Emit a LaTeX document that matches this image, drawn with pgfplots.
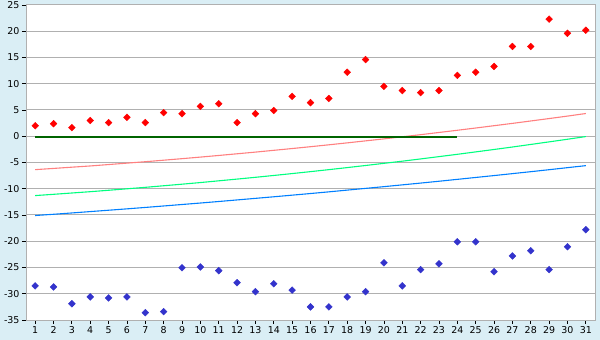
\documentclass[border=0pt]{standalone}
\usepackage{pgfplots}
\pgfplotsset{compat=1.18}
\usepackage{fontspec}
\setmainfont{DejaVu Sans}
\definecolor{bgc}{HTML}{DAEEF5}
\definecolor{gridc}{HTML}{B0B0B0}
\definecolor{redm}{HTML}{FF0000}
\definecolor{bluem}{HTML}{3333CC}
\definecolor{redl}{HTML}{FF8080}
\definecolor{greenl}{HTML}{00FF80}
\definecolor{bluel}{HTML}{0080FF}
\definecolor{dgreen}{HTML}{006400}
\begin{document}
\begin{tikzpicture}
\fill[bgc] (-26bp,-20bp) rectangle (574bp,320bp);
\begin{axis}[
  scale only axis, width=569bp, height=315bp,
  xmin=0.5, xmax=31.5, ymin=-35, ymax=25,
  xtick={1,...,31}, ytick={-35,-30,...,25},
  axis background/.style={fill=white},
  axis line style={gridc, line width=1bp},
  ymajorgrids, major grid style={gridc, line width=1bp},
  tick align=outside, major tick length=4bp,
  tick style={black, line width=0.8bp},
  xtick pos=bottom, ytick pos=left,
  ticklabel style={font=\fontsize{9.5}{11}\selectfont},
  /pgf/number format/assume math mode=true,
  yticklabel style={xshift=1bp},
  xticklabel style={yshift=1bp},
  clip=false,
]
% trend lines
\addplot[redl, line width=1.1bp] coordinates {
(1,-6.36)(2,-6.13)(3,-5.89)(4,-5.66)(5,-5.39)(6,-5.12)(7,-4.85)(8,-4.56)(9,-4.27)(10,-3.97)
(11,-3.66)(12,-3.34)(13,-3.02)(14,-2.68)(15,-2.34)(16,-1.99)(17,-1.63)(18,-1.26)(19,-0.88)(20,-0.50)
(21,-0.10)(22,0.30)(23,0.72)(24,1.14)(25,1.57)(26,2.01)(27,2.45)(28,2.91)(29,3.37)(30,3.84)(31,4.33)};
\addplot[greenl, line width=1.1bp] coordinates {
(1,-11.30)(2,-11.06)(3,-10.81)(4,-10.56)(5,-10.29)(6,-10.01)(7,-9.73)(8,-9.43)(9,-9.13)(10,-8.82)
(11,-8.49)(12,-8.16)(13,-7.82)(14,-7.47)(15,-7.11)(16,-6.74)(17,-6.36)(18,-5.97)(19,-5.57)(20,-5.16)
(21,-4.75)(22,-4.32)(23,-3.88)(24,-3.44)(25,-2.98)(26,-2.52)(27,-2.05)(28,-1.56)(29,-1.07)(30,-0.57)(31,-0.06)};
\addplot[bluel, line width=1.1bp] coordinates {
(1,-15.10)(2,-14.86)(3,-14.61)(4,-14.35)(5,-14.09)(6,-13.83)(7,-13.56)(8,-13.28)(9,-13.00)(10,-12.72)
(11,-12.43)(12,-12.13)(13,-11.83)(14,-11.53)(15,-11.22)(16,-10.91)(17,-10.59)(18,-10.26)(19,-9.93)(20,-9.60)
(21,-9.26)(22,-8.92)(23,-8.57)(24,-8.21)(25,-7.85)(26,-7.49)(27,-7.12)(28,-6.75)(29,-6.37)(30,-5.98)(31,-5.60)};
% zero line
\addplot[dgreen, line width=2.6bp] coordinates {(1,-0.15)(24,-0.15)};
% red points
\addplot[only marks, mark=square*, mark size=2.4bp, redm, mark options={fill=redm, rotate=45}] coordinates {
(1,2.0)(2,2.4)(3,1.65)(4,3.0)(5,2.6)(6,3.6)(7,2.6)(8,4.5)(9,4.3)(10,5.7)
(11,6.2)(12,2.6)(13,4.3)(14,4.9)(15,7.6)(16,6.4)(17,7.2)(18,12.2)(19,14.6)(20,9.5)
(21,8.7)(22,8.3)(23,8.7)(24,11.6)(25,12.2)(26,13.3)(27,17.1)(28,17.1)(29,22.3)(30,19.6)(31,20.2)};
% blue points
\addplot[only marks, mark=square*, mark size=2.4bp, bluem, mark options={fill=bluem, rotate=45}] coordinates {
(1,-28.5)(2,-28.7)(3,-31.9)(4,-30.6)(5,-30.8)(6,-30.6)(7,-33.6)(8,-33.4)(9,-25.05)(10,-24.9)
(11,-25.6)(12,-27.9)(13,-29.6)(14,-28.1)(15,-29.3)(16,-32.5)(17,-32.5)(18,-30.6)(19,-29.6)(20,-24.1)
(21,-28.5)(22,-25.4)(23,-24.3)(24,-20.1)(25,-20.1)(26,-25.8)(27,-22.8)(28,-21.8)(29,-25.4)(30,-21.05)(31,-17.8)};
\end{axis}
\pgfresetboundingbox
\path (-26bp,-20bp) rectangle (574bp,320bp);
\end{tikzpicture}
\end{document}
